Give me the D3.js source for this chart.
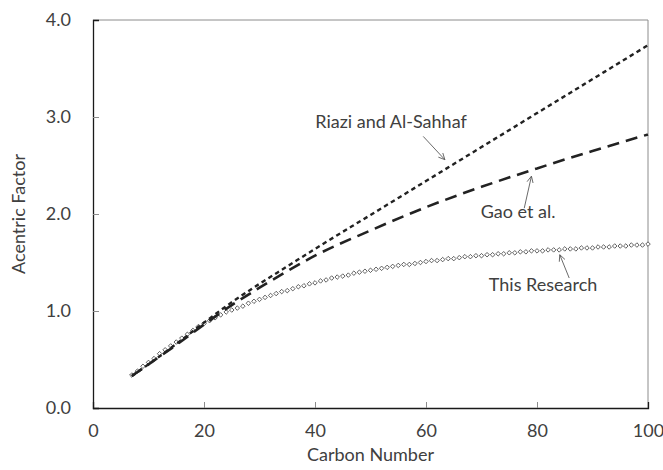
<!DOCTYPE html>
<html>
<head>
<meta charset="utf-8">
<script src="https://cdn.jsdelivr.net/npm/d3@7"></script>
<style>
  body { margin: 0; background: #fff; }
  text { font-family: Lato, "Open Sans", sans-serif; fill: #404040; }
</style>
</head>
<body>
<svg id="svg0"></svg>
<script>
// carbon numbers for the two correlations
let lineCarbon = [7, 10, 15, 20, 25, 30, 35, 40, 50, 60, 70, 80, 90, 100];
let riaziOmega = [0.33, 0.45, 0.66, 0.88, 1.09, 1.28, 1.46, 1.64, 1.99, 2.34, 2.69, 3.04, 3.39, 3.74];
let gaoOmega = [0.33, 0.45, 0.65, 0.86, 1.06, 1.24, 1.41, 1.57, 1.83, 2.07, 2.28, 2.47, 2.65, 2.82];

// this research: one point per carbon number, 7..100
let researchCarbon = d3.range(7, 101);
let researchOmega = [
  0.34, 0.38, 0.43, 0.47, 0.51, 0.56, 0.60, 0.64, 0.68, 0.72,
  0.76, 0.80, 0.84, 0.87, 0.90, 0.93, 0.96, 0.99, 1.01, 1.03,
  1.05, 1.08, 1.10, 1.12, 1.14, 1.16, 1.18, 1.20, 1.21, 1.23,
  1.25, 1.26, 1.28, 1.29, 1.31, 1.32, 1.34, 1.35, 1.36, 1.37,
  1.39, 1.40, 1.41, 1.42, 1.43, 1.44, 1.45, 1.46, 1.47, 1.48,
  1.48, 1.49, 1.50, 1.51, 1.52, 1.52, 1.53, 1.54, 1.54, 1.55,
  1.56, 1.56, 1.57, 1.57, 1.58, 1.58, 1.59, 1.59, 1.60, 1.60,
  1.61, 1.61, 1.62, 1.62, 1.62, 1.63, 1.63, 1.63, 1.64, 1.64,
  1.64, 1.65, 1.65, 1.65, 1.66, 1.66, 1.66, 1.67, 1.67, 1.67,
  1.68, 1.68, 1.68, 1.69
];

let xTicks = [0, 20, 40, 60, 80, 100];
let yTicks = [0, 1, 2, 3, 4];

// labels: text anchor point and arrow (tail -> tip), in data units
let labelNames = ['Riazi and Al-Sahhaf', 'Gao et al.', 'This Research'];
let labelAt = [[53.7, 2.89], [76.6, 1.96], [81.1, 1.21]];
let arrowFrom = [[59.5, 2.80], [77.7, 2.06], [85.8, 1.34]];
let arrowTo = [[63.4, 2.56], [79.0, 2.39], [84.1, 1.58]];

let width = 555;
let height = 388;
let margin = {top: 20, right: 15, bottom: 62, left: 93};

let svg = d3.select('#svg0')
  .attr('width', width + margin.left + margin.right)
  .attr('height', height + margin.top + margin.bottom);

let g = svg.append('g').attr('transform', 'translate(' + margin.left + ',' + margin.top + ')');

let xScale = d3.scaleLinear().domain([0, 100]).range([0, width]);
let yScale = d3.scaleLinear().domain([0, 4]).range([height, 0]);

// frame: grey top/right, dark left/bottom
g.append('line').attr('x1', 0).attr('x2', width).attr('y1', 0).attr('y2', 0)
  .style('stroke', '#8c8c8c').style('stroke-width', 1);
g.append('line').attr('x1', width).attr('x2', width).attr('y1', 0).attr('y2', height)
  .style('stroke', '#8c8c8c').style('stroke-width', 1);

// axes, ticks point inward
let xAxis = g.append('g').attr('transform', 'translate(0,' + height + ')')
  .call(d3.axisBottom(xScale).tickValues(xTicks).tickSize(-6).tickPadding(13).tickFormat(d3.format('d')));
let yAxis = g.append('g')
  .call(d3.axisLeft(yScale).tickValues(yTicks).tickSize(-6).tickPadding(22).tickFormat(d3.format('.1f')));

[xAxis, yAxis].forEach(ax=>{
  ax.select('.domain').style('stroke', '#1a1a1a').style('stroke-width', 1.3);
  ax.selectAll('.tick line').style('stroke', '#8c8c8c');
  ax.selectAll('.tick text').style('font-family', 'Lato, sans-serif').style('font-size', '18px').style('fill', '#404040');
});
xAxis.selectAll('.tick').filter(d=>d === 0 || d === 100).select('line').remove();
yAxis.selectAll('.tick').filter(d=>d === 0 || d === 4).select('line').remove();
xAxis.selectAll('.tick text').attr('dy', '0.9em');

// this research markers
let diamond = d3.symbol().type(d3.symbolDiamond2).size(13);
g.selectAll('.research').data(d3.zip(researchCarbon, researchOmega)).enter().append('path')
  .attr('class', 'research')
  .attr('transform', d=>'translate(' + xScale(d[0]) + ',' + yScale(d[1]) + ')')
  .attr('d', diamond)
  .style('fill', '#fff').style('stroke', '#3a3a3a').style('stroke-width', 0.8);

let line = d3.line().curve(d3.curveMonotoneX)
  .x(d=>xScale(d[0])).y(d=>yScale(d[1]));

g.append('path').datum(d3.zip(lineCarbon, gaoOmega))
  .attr('d', line)
  .style('fill', 'none').style('stroke', '#222').style('stroke-width', 2.6)
  .style('stroke-dasharray', '12,7');

g.append('path').datum(d3.zip(lineCarbon, riaziOmega))
  .attr('d', line)
  .style('fill', 'none').style('stroke', '#222').style('stroke-width', 2.4)
  .style('stroke-dasharray', '4.5,3.5');

// annotations
labelNames.forEach((name, i)=>{
  g.append('text')
    .attr('x', xScale(labelAt[i][0])).attr('y', yScale(labelAt[i][1]))
    .attr('text-anchor', 'middle')
    .style('font-size', '18px')
    .text(name);

  let x1 = xScale(arrowFrom[i][0]), y1 = yScale(arrowFrom[i][1]);
  let x2 = xScale(arrowTo[i][0]), y2 = yScale(arrowTo[i][1]);
  let ang = Math.atan2(y2 - y1, x2 - x1);
  let len = 7, spread = 0.45;
  g.append('line').attr('x1', x1).attr('y1', y1).attr('x2', x2).attr('y2', y2)
    .style('stroke', '#595959').style('stroke-width', 0.9);
  g.append('path')
    .attr('d', 'M' + (x2 - len * Math.cos(ang - spread)) + ',' + (y2 - len * Math.sin(ang - spread)) +
               'L' + x2 + ',' + y2 +
               'L' + (x2 - len * Math.cos(ang + spread)) + ',' + (y2 - len * Math.sin(ang + spread)))
    .style('fill', 'none').style('stroke', '#595959').style('stroke-width', 0.9);
});

// axis titles
svg.append('text')
  .attr('x', margin.left + width / 2).attr('y', 461)
  .attr('text-anchor', 'middle')
  .style('font-size', '18px')
  .text('Carbon Number');

svg.append('text')
  .attr('transform', 'translate(25,' + (margin.top + height / 2) + ') rotate(-90)')
  .attr('text-anchor', 'middle')
  .style('font-size', '18px')
  .text('Acentric Factor');
</script>
</body>
</html>
